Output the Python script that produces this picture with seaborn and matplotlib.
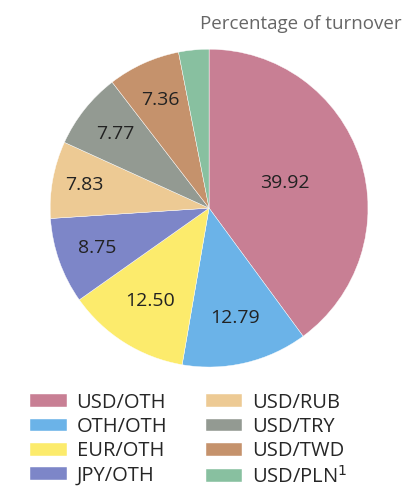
import matplotlib
matplotlib.use('Agg')
import matplotlib.pyplot as plt
import seaborn as sns
import numpy as np

# Data
pairs = ['USD/OTH', 'OTH/OTH', 'EUR/OTH', 'JPY/OTH',
         'USD/RUB', 'USD/TRY', 'USD/TWD', 'USD/PLN$^1$']
shares = [39.92, 12.79, 12.50, 8.75, 7.83, 7.77, 7.36, 3.08]
shown = ['39.92', '12.79', '12.50', '8.75', '7.83', '7.77', '7.36', '']
colors = ['#C87F94', '#6BB3E8', '#FCEB6C', '#7D86C8',
          '#EDCA94', '#939A92', '#C5926C', '#88C0A0']
# how far out each number sits (fraction of radius)
label_dist = [0.50, 0.71, 0.69, 0.75, 0.80, 0.75, 0.75, 0.75]

sns.set_theme(style='white')
plt.rcParams['font.family'] = ['Open Sans', 'DejaVu Sans']

fig = plt.figure(figsize=(4.04, 4.92), dpi=100)
ax = fig.add_axes([0.124, 0.254, 0.787, 0.646])

wedges, _ = ax.pie(shares, colors=colors, startangle=90, counterclock=False,
                   wedgeprops=dict(edgecolor='white', linewidth=0.3))
ax.set_xlim(-1, 1)
ax.set_ylim(-1, 1)
ax.set_aspect('equal')

for w, txt, d in zip(wedges, shown, label_dist):
    ang = np.deg2rad((w.theta1 + w.theta2) / 2)
    ax.text(d * np.cos(ang), d * np.sin(ang), txt, ha='center', va='center',
            fontsize=14, color='#222222')

fig.text(0.993, 0.951, 'Percentage of turnover', ha='right', va='center',
         fontsize=13.5, color='#666666')

fig.legend(wedges, pairs, ncol=2, loc='upper left', bbox_to_anchor=(0.075, 0.202),
           frameon=False, fontsize=14.5, handlelength=1.8, handleheight=0.6,
           handletextpad=0.5, labelspacing=0.22, columnspacing=1.9,
           borderaxespad=0, borderpad=0)

plt.savefig('out.png', dpi=100)
